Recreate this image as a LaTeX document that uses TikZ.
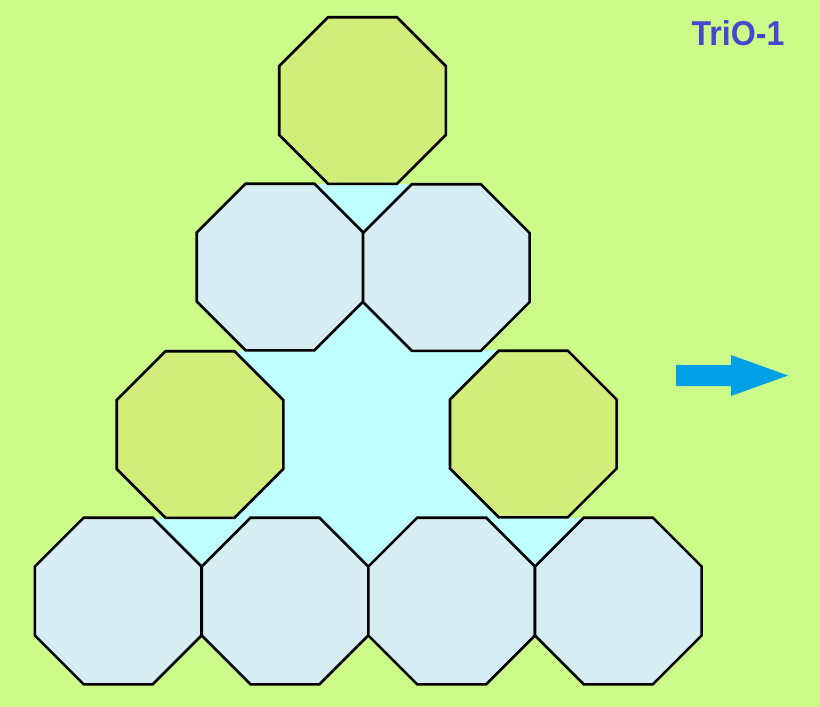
\documentclass[tikz,border=0pt]{standalone}
\usepackage{fontspec}
\setmainfont{Liberation Sans}
\definecolor{bggreen}{RGB}{204,250,136}
\definecolor{olivefill}{RGB}{210,237,122}
\definecolor{bluefill}{RGB}{213,237,243}
\definecolor{gapcyan}{RGB}{191,255,255}
\definecolor{titleblue}{RGB}{70,70,206}
\definecolor{arrowblue}{RGB}{0,160,230}
\tikzset{
  oct/.pic={\draw[pic actions] (-34.5,-83.3) -- (34.5,-83.3) -- (83.3,-34.5) -- (83.3,34.5) -- (34.5,83.3) -- (-34.5,83.3) -- (-83.3,34.5) -- (-83.3,-34.5) -- cycle;},
  octolive/.style={fill=olivefill,draw=black,line width=2.6pt,line join=miter},
  octblue/.style={fill=bluefill,draw=black,line width=2.6pt,line join=miter},
}
\begin{document}
\begin{tikzpicture}[x=1pt,y=-1pt]
\useasboundingbox (0,0) rectangle (820,707);
\fill[bggreen] (0,0) rectangle (820,707);
% cyan gaps
\fill[gapcyan] (316,184) -- (410,184) -- (481,350) -- (498,350) -- (568,517.5) -- (583,518) -- (535,566.5)
  -- (451.7,601) -- (368.4,566.5) -- (285,601) -- (201.7,566.5) -- (153,518) -- (165,517.5) -- (235,351) -- (245,350) -- cycle;
% row 1
\pic[octolive] (o1) at (362.5,100.5) {oct};
% row 2
\pic[octblue] (o2a) at (280,267) {oct};
\pic[octblue] (o2b) at (446.3,267.5) {oct};
% row 3
\pic[octolive] (o3a) at (200,434.5) {oct};
\pic[octolive] (o3b) at (533.3,434) {oct};
% row 4
\pic[octblue] (o4a) at (118.2,601) {oct};
\pic[octblue] (o4b) at (285,601) {oct};
\pic[octblue] (o4c) at (451.7,601) {oct};
\pic[octblue] (o4d) at (618.3,601) {oct};
% arrow
\fill[arrowblue] (676,365) -- (731,365) -- (731,355) -- (788,375.5) -- (731,396) -- (731,386) -- (676,386) -- cycle;
% title
\node[text=titleblue,inner sep=0pt,font=\bfseries\fontsize{34.5}{40}\selectfont] (title) at (738,33.4) {\scalebox{0.93}[1]{TriO-1}};
\end{tikzpicture}
\end{document}
